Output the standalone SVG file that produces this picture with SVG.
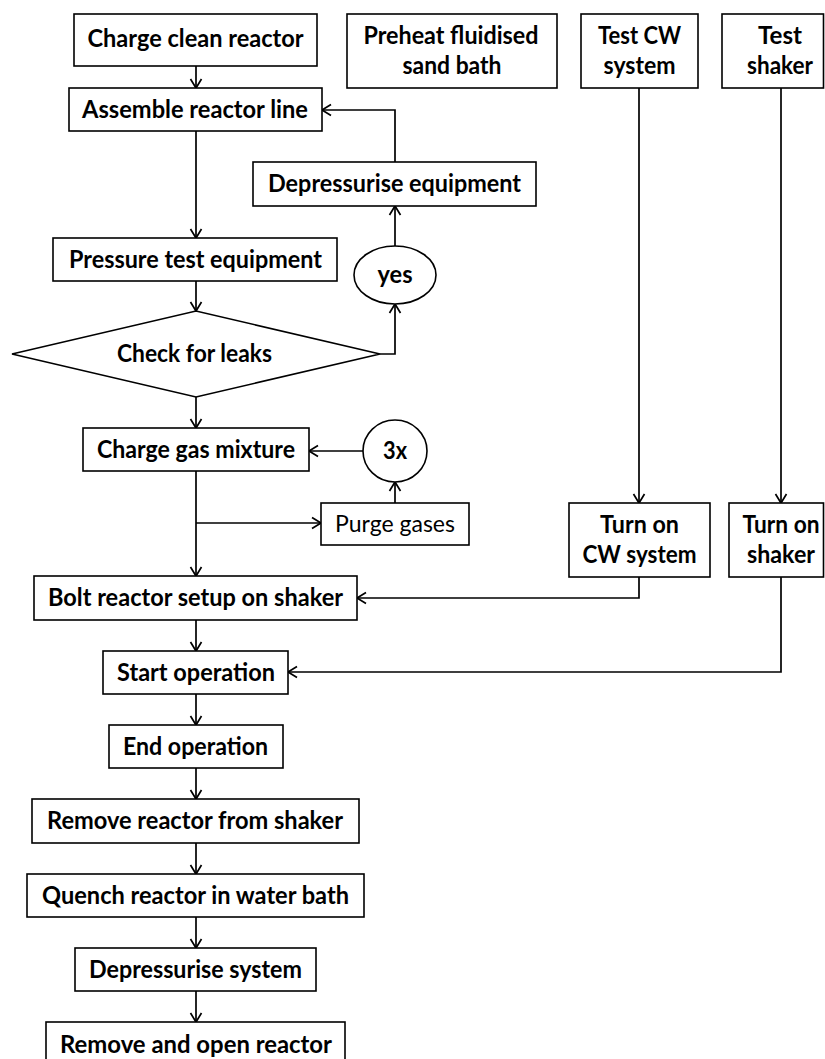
<svg xmlns="http://www.w3.org/2000/svg" width="825" height="1059" viewBox="0 0 825 1059">
<style>
.box{fill:#fff;stroke:#000;stroke-width:1.6}
.ln{fill:none;stroke:#000;stroke-width:1.7}
.t{font-family:Lato,"Liberation Sans",sans-serif;font-weight:bold;font-size:24px;fill:#000;text-anchor:middle}
.r{font-weight:normal}
</style>
<defs>
<marker id="a" viewBox="-11 -7 13 14" markerWidth="13" markerHeight="14" refX="0" refY="0" orient="auto" markerUnits="userSpaceOnUse">
<path d="M-9,-5.5 L0,0 L-9,5.5" fill="none" stroke="#000" stroke-width="1.7"/>
</marker>
</defs>
<rect width="825" height="1059" fill="#fff"/>
<g id="connectors">
<path class="ln" d="M196,66 V88" marker-end="url(#a)"/>
<path class="ln" d="M196,131 V238" marker-end="url(#a)"/>
<path class="ln" d="M196,281 V311" marker-end="url(#a)"/>
<path class="ln" d="M196,397 V428" marker-end="url(#a)"/>
<path class="ln" d="M380,354 H395 V304" marker-end="url(#a)"/>
<path class="ln" d="M395,246 V206" marker-end="url(#a)"/>
<path class="ln" d="M395,162 V110 H322" marker-end="url(#a)"/>
<path class="ln" d="M363,451 H309" marker-end="url(#a)"/>
<path class="ln" d="M395,503 V482" marker-end="url(#a)"/>
<path class="ln" d="M196,471 V576" marker-end="url(#a)"/>
<path class="ln" d="M196,523 H321" marker-end="url(#a)"/>
<path class="ln" d="M639,88 V503" marker-end="url(#a)"/>
<path class="ln" d="M781,88 V503" marker-end="url(#a)"/>
<path class="ln" d="M639,577 V598 H357" marker-end="url(#a)"/>
<path class="ln" d="M781,577 V672 H288" marker-end="url(#a)"/>
<path class="ln" d="M196,620 V651" marker-end="url(#a)"/>
<path class="ln" d="M196,694 V725" marker-end="url(#a)"/>
<path class="ln" d="M196,768 V799" marker-end="url(#a)"/>
<path class="ln" d="M196,843 V874" marker-end="url(#a)"/>
<path class="ln" d="M196,917 V948" marker-end="url(#a)"/>
<path class="ln" d="M196,991 V1022" marker-end="url(#a)"/>
</g>
<g id="charge-clean-reactor"><rect class="box" x="74" y="14" width="243" height="52"/><text class="t" x="195.5" y="47" textLength="216" lengthAdjust="spacingAndGlyphs">Charge clean reactor</text></g>
<g id="preheat"><rect class="box" x="347" y="14" width="210" height="74"/><text class="t" x="451" y="44" textLength="175" lengthAdjust="spacingAndGlyphs">Preheat fluidised</text><text class="t" x="452" y="74" textLength="99" lengthAdjust="spacingAndGlyphs">sand bath</text></g>
<g id="test-cw"><rect class="box" x="581" y="14" width="117" height="74"/><text class="t" x="639.5" y="44" textLength="83" lengthAdjust="spacingAndGlyphs">Test CW</text><text class="t" x="639.5" y="74" textLength="72" lengthAdjust="spacingAndGlyphs">system</text></g>
<g id="test-shaker"><rect class="box" x="722" y="14" width="101.5" height="74"/><text class="t" x="780" y="44" textLength="44" lengthAdjust="spacingAndGlyphs">Test</text><text class="t" x="780" y="74" textLength="66" lengthAdjust="spacingAndGlyphs">shaker</text></g>
<g id="assemble"><rect class="box" x="69" y="88" width="253" height="43"/><text class="t" x="195" y="118" textLength="226" lengthAdjust="spacingAndGlyphs">Assemble reactor line</text></g>
<g id="depressurise-equipment"><rect class="box" x="253" y="162" width="283" height="44"/><text class="t" x="394.5" y="192" textLength="253" lengthAdjust="spacingAndGlyphs">Depressurise equipment</text></g>
<g id="pressure-test"><rect class="box" x="53" y="238" width="284" height="43"/><text class="t" x="195.5" y="268" textLength="253" lengthAdjust="spacingAndGlyphs">Pressure test equipment</text></g>
<g id="yes"><ellipse class="box" cx="395" cy="275" rx="41" ry="29"/><text class="t" x="395" y="283" textLength="35" lengthAdjust="spacingAndGlyphs">yes</text></g>
<g id="check-leaks"><polygon class="box" points="12,354 196,311 380,354 196,397"/><text class="t" x="194.5" y="362" textLength="155" lengthAdjust="spacingAndGlyphs">Check for leaks</text></g>
<g id="charge-gas"><rect class="box" x="83" y="428" width="226" height="43"/><text class="t" x="196" y="458" textLength="198" lengthAdjust="spacingAndGlyphs">Charge gas mixture</text></g>
<g id="three-x"><ellipse class="box" cx="395" cy="451" rx="32" ry="31"/><text class="t" x="395" y="459" textLength="24" lengthAdjust="spacingAndGlyphs">3x</text></g>
<g id="purge"><rect class="box" x="321" y="503" width="148" height="42"/><text class="t r" x="395" y="532" textLength="120" lengthAdjust="spacingAndGlyphs">Purge gases</text></g>
<g id="bolt"><rect class="box" x="34" y="576" width="323" height="44"/><text class="t" x="195.5" y="606" textLength="295" lengthAdjust="spacingAndGlyphs">Bolt reactor setup on shaker</text></g>
<g id="turn-on-cw"><rect class="box" x="569" y="503" width="141" height="74"/><text class="t" x="639.5" y="533" textLength="79" lengthAdjust="spacingAndGlyphs">Turn on</text><text class="t" x="639.5" y="563" textLength="114" lengthAdjust="spacingAndGlyphs">CW system</text></g>
<g id="turn-on-shaker"><rect class="box" x="729" y="503" width="94.5" height="74"/><text class="t" x="781" y="533" textLength="77" lengthAdjust="spacingAndGlyphs">Turn on</text><text class="t" x="781" y="563" textLength="68" lengthAdjust="spacingAndGlyphs">shaker</text></g>
<g id="start"><rect class="box" x="103" y="651" width="185" height="43"/><text class="t" x="196" y="681" textLength="158" lengthAdjust="spacingAndGlyphs">Start operation</text></g>
<g id="end"><rect class="box" x="109" y="725" width="174" height="43"/><text class="t" x="195.5" y="755" textLength="145" lengthAdjust="spacingAndGlyphs">End operation</text></g>
<g id="remove-shaker"><rect class="box" x="32" y="799" width="327" height="44"/><text class="t" x="195" y="829" textLength="296" lengthAdjust="spacingAndGlyphs">Remove reactor from shaker</text></g>
<g id="quench"><rect class="box" x="27" y="874" width="337" height="43"/><text class="t" x="195.5" y="904" textLength="307" lengthAdjust="spacingAndGlyphs">Quench reactor in water bath</text></g>
<g id="depressurise-system"><rect class="box" x="75" y="948" width="241" height="43"/><text class="t" x="195.5" y="978" textLength="213" lengthAdjust="spacingAndGlyphs">Depressurise system</text></g>
<g id="remove-open"><rect class="box" x="46" y="1022" width="299" height="44"/><text class="t" x="196" y="1053" textLength="272" lengthAdjust="spacingAndGlyphs">Remove and open reactor</text></g>
</svg>
